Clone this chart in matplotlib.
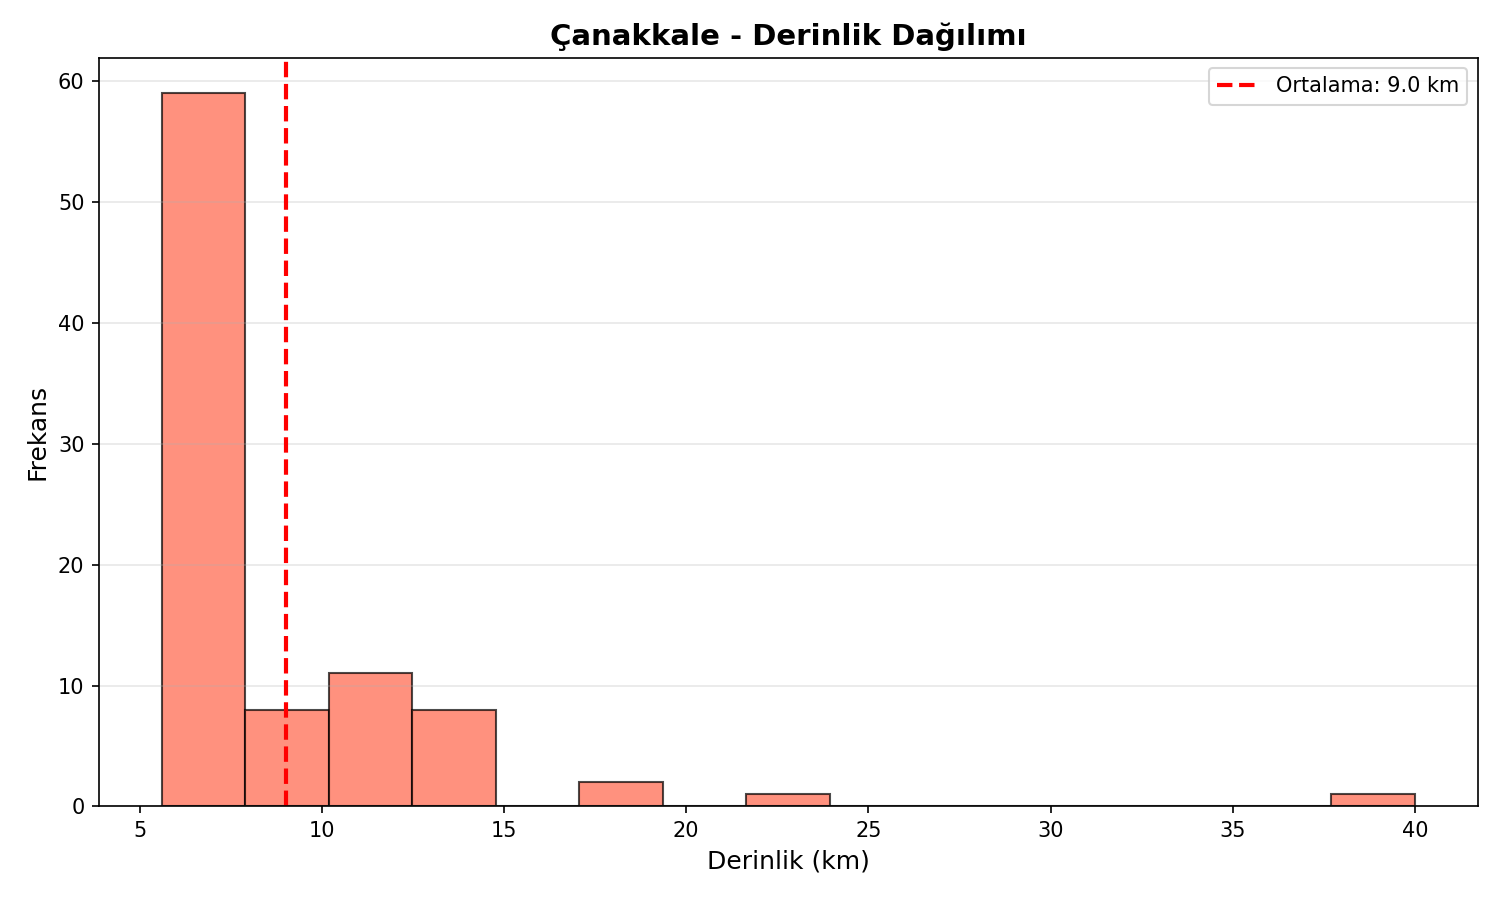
import matplotlib
matplotlib.use("Agg")
import matplotlib.pyplot as plt
import numpy as np

# ------------------- Data -------------------
depth_min = 5.6
depth_max = 40.0
n_bins = 15
counts = [59, 8, 11, 8, 0, 2, 0, 1, 0, 0, 0, 0, 0, 0, 1]
mean_depth = 9.0

edges = np.linspace(depth_min, depth_max, n_bins + 1)
centers = (edges[:-1] + edges[1:]) / 2

# ------------------- Plot -------------------
fig, ax = plt.subplots(figsize=(10, 6), dpi=150)
ax.hist(centers, bins=edges, weights=counts, color='tomato',
        edgecolor='black', alpha=0.7)
ax.axvline(mean_depth, color='red', linestyle='--', linewidth=2,
           label=f'Ortalama: {mean_depth:.1f} km')

ax.set_title('Çanakkale - Derinlik Dağılımı', fontsize=14, fontweight='bold')
ax.set_xlabel('Derinlik (km)', fontsize=12)
ax.set_ylabel('Frekans', fontsize=12)
ax.legend()
ax.grid(True, axis='y', alpha=0.3)

fig.subplots_adjust(left=0.066, right=0.985, top=0.936, bottom=0.104)
plt.savefig('out.png')
